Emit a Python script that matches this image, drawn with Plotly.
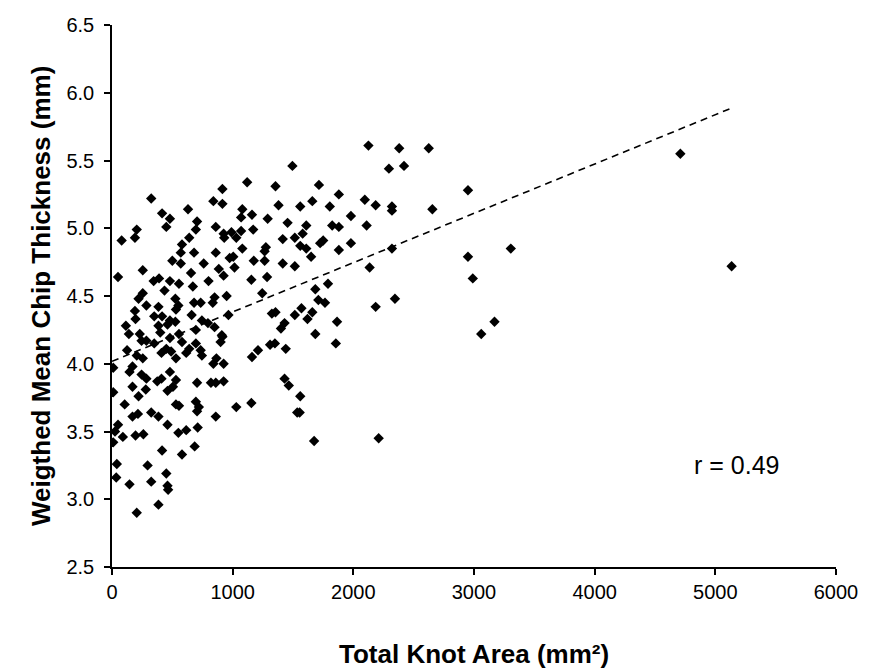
import numpy as np
import plotly.graph_objects as go

knot_area = [
    1495, 1120, 915, 1355, 325, 840, 915, 1380, 630, 1080,
    415, 480, 705, 1070, 1160, 1290, 1455, 450, 205, 860,
    695, 925, 990, 1070, 1170, 80, 190, 930, 1030, 1415,
    1515, 640, 580, 1275, 1080, 680, 860, 570, 1265, 500,
    570, 760, 975, 1005, 1175, 1265, 1415, 1515, 255, 50,
    655, 885, 925, 1015, 345, 390, 480, 435, 555, 670,
    800, 1155, 1285, 1245, 255, 220, 525, 850, 950, 285,
    385, 550, 680, 735, 835, 190, 195, 350, 415, 530,
    480, 660, 745, 795, 965, 1325, 1355, 1515, 115, 140,
    385, 460, 525, 400, 555, 695, 850, 910, 1430, 1400,
    230, 245, 285, 350, 480, 580, 900, 695, 125, 450,
    640, 1210, 1310, 1350, 1440, 205, 255, 410, 490, 530,
    615, 735, 745, 865, 915, 925, 840, 1160, 10, 145,
    170, 245, 285, 375, 410, 480, 530, 705, 820, 860,
    925, 1430, 1465, 10, 170, 280, 220, 460, 505, 105,
    530, 555, 695, 720, 705, 1030, 1155, 1535, 170, 215,
    325, 385, 860, 50, 460, 710, 25, 90, 195, 260,
    550, 615, 10, 415, 580, 685, 40, 295, 450, 35,
    325, 145, 460, 465, 385, 205,
    2295, 2420, 1715, 1880, 2950, 1560, 1660, 1805, 2095, 2185,
    2320, 2320, 2655, 1610, 1825, 1880, 1980, 2110, 1580, 1560,
    1610, 1650, 1725, 1750, 1880, 1980, 2320, 2950, 3305, 2135,
    2990, 1685, 1790, 1710, 1765, 2185, 2345, 1570, 1620, 1660,
    1865, 1685, 1855, 3060, 3170, 1560, 1555, 1675, 2210, 2125,
    2380, 2625, 4710, 5135,
]

chip_thickness = [
    5.46, 5.34, 5.29, 5.31, 5.22, 5.20, 5.18, 5.17, 5.14, 5.14,
    5.11, 5.07, 5.05, 5.08, 5.10, 5.07, 5.04, 5.01, 4.99, 5.01,
    4.99, 4.96, 4.97, 4.98, 4.99, 4.91, 4.93, 4.93, 4.93, 4.92,
    4.93, 4.93, 4.88, 4.86, 4.85, 4.82, 4.82, 4.82, 4.83, 4.76,
    4.74, 4.74, 4.78, 4.79, 4.76, 4.76, 4.74, 4.72, 4.69, 4.64,
    4.67, 4.70, 4.65, 4.71, 4.61, 4.63, 4.61, 4.54, 4.59, 4.57,
    4.61, 4.62, 4.64, 4.52, 4.52, 4.48, 4.48, 4.49, 4.50, 4.43,
    4.42, 4.43, 4.45, 4.45, 4.45, 4.39, 4.33, 4.35, 4.35, 4.40,
    4.32, 4.36, 4.32, 4.30, 4.36, 4.37, 4.38, 4.36, 4.28, 4.22,
    4.28, 4.29, 4.31, 4.23, 4.22, 4.25, 4.27, 4.21, 4.30, 4.26,
    4.22, 4.17, 4.17, 4.15, 4.19, 4.16, 4.16, 4.15, 4.10, 4.11,
    4.11, 4.10, 4.14, 4.15, 4.11, 4.06, 4.04, 4.08, 4.09, 4.04,
    4.08, 4.10, 4.06, 4.04, 4.20, 4.00, 4.00, 4.05, 3.97, 3.94,
    3.98, 3.92, 3.89, 3.87, 3.89, 3.94, 3.88, 3.86, 3.86, 3.86,
    3.87, 3.89, 3.84, 3.79, 3.83, 3.81, 3.76, 3.80, 3.83, 3.70,
    3.70, 3.69, 3.72, 3.68, 3.65, 3.68, 3.71, 3.64, 3.61, 3.63,
    3.64, 3.61, 3.61, 3.55, 3.55, 3.53, 3.50, 3.46, 3.47, 3.48,
    3.49, 3.51, 3.42, 3.36, 3.33, 3.39, 3.26, 3.25, 3.19, 3.16,
    3.13, 3.11, 3.10, 3.07, 2.96, 2.90,
    5.44, 5.46, 5.32, 5.25, 5.28, 5.16, 5.20, 5.16, 5.21, 5.17,
    5.16, 5.13, 5.14, 5.02, 5.02, 5.01, 5.09, 5.02, 4.96, 4.87,
    4.85, 4.79, 4.89, 4.91, 4.84, 4.89, 4.85, 4.79, 4.85, 4.71,
    4.63, 4.55, 4.59, 4.47, 4.45, 4.42, 4.48, 4.41, 4.33, 4.38,
    4.31, 4.22, 4.15, 4.22, 4.31, 3.76, 3.64, 3.43, 3.45, 5.61,
    5.59, 5.59, 5.55, 4.72,
]

x_ticks = [0, 1000, 2000, 3000, 4000, 5000, 6000]
y_ticks = [2.5, 3.0, 3.5, 4.0, 4.5, 5.0, 5.5, 6.0, 6.5]
r_label = "r = 0.49"

xa = np.array(knot_area, dtype=float)
ya = np.array(chip_thickness, dtype=float)
slope, intercept = np.polyfit(xa, ya, 1)
trend_x = np.array([0.0, xa.max()])
trend_y = intercept + slope * trend_x

FONT = "Liberation Sans, Arial, sans-serif"

fig = go.Figure()
fig.add_trace(go.Scatter(
    x=trend_x, y=trend_y, mode="lines",
    line=dict(color="black", width=1.6, dash="7px,5px"),
    hoverinfo="skip", showlegend=False,
))
fig.add_trace(go.Scatter(
    x=knot_area, y=chip_thickness, mode="markers",
    marker=dict(symbol="diamond", size=8, color="black", line=dict(width=0)),
    showlegend=False,
))

fig.update_layout(
    width=870, height=669, autosize=False,
    margin=dict(l=112, r=24, t=25, b=102, pad=0),
    paper_bgcolor="white", plot_bgcolor="white",
    font=dict(family=FONT, color="black", size=20),
    xaxis=dict(
        range=[0, 6000], tickvals=x_ticks, ticktext=[str(v) for v in x_ticks],
        showgrid=False, zeroline=False, showline=True, linecolor="black", linewidth=1.5,
        ticks="outside", ticklen=6, tickwidth=1.5, tickcolor="black",
        tickfont=dict(size=20, family=FONT), ticklabelstandoff=0,
    ),
    yaxis=dict(
        range=[2.5, 6.5], tickvals=y_ticks, ticktext=[f"{v:.1f}" for v in y_ticks],
        showgrid=False, zeroline=False, showline=True, linecolor="black", linewidth=1.5,
        ticks="outside", ticklen=6, tickwidth=1.5, tickcolor="black",
        tickfont=dict(size=20, family=FONT), ticklabelstandoff=6,
    ),
    annotations=[
        dict(text="<b>Total Knot Area (mm²)</b>", xref="paper", yref="paper",
             x=0.5, y=-0.16, xanchor="center", yanchor="middle", showarrow=False,
             font=dict(size=26, family=FONT, color="black")),
        dict(text="<b>Weigthed Mean Chip Thickness (mm)</b>", xref="paper", yref="paper",
             x=-0.098, y=0.5, xanchor="center", yanchor="middle", textangle=-90,
             showarrow=False, font=dict(size=26, family=FONT, color="black")),
        dict(text=r_label, xref="x", yref="y", x=5175, y=3.25,
             xanchor="center", yanchor="middle", showarrow=False,
             font=dict(size=25, family=FONT, color="black")),
    ],
)

fig.write_html("out.html", config={"responsive": False})
